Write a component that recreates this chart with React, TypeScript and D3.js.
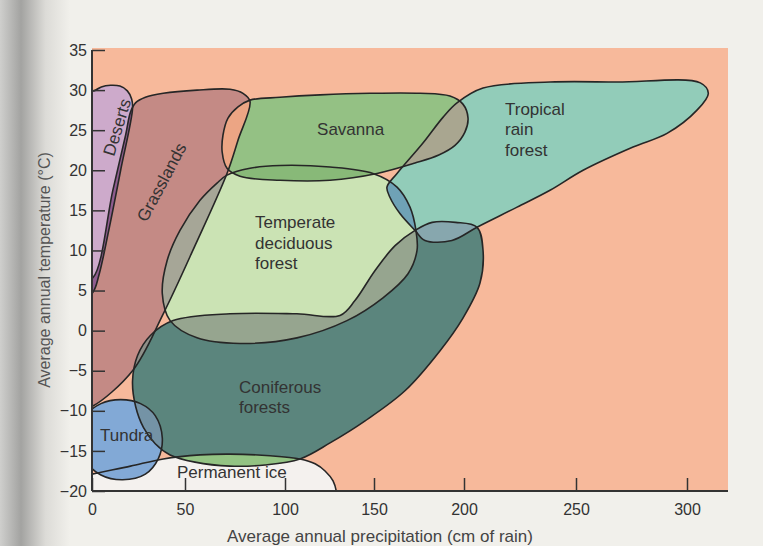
import React, { useRef, useEffect } from "react";
import * as d3 from "d3";

type Pt = [number, number];

// axis ticks
const xTicks = [0, 50, 100, 150, 200, 250, 300];
const yTicks = [35, 30, 25, 20, 15, 10, 5, 0, -5, -10, -15, -20];

// biome outlines as [precipitation cm, temperature °C]
const deserts: Pt[] = [
  [-6, 29.8], [1, 29.9], [5, 30.4], [10, 30.6], [15, 30.5], [19, 29.9],
  [21.3, 28.9], [21.8, 27.7], [15.4, 20], [9, 12.5], [3.7, 6.9], [0.5, 4.8], [-6, 3.8],
];
const grasslands: Pt[] = [
  [20.7, 27.25], [23.4, 28.4], [28.7, 29.1], [38.3, 29.6], [56, 30], [72.5, 30.1],
  [79, 29.6], [82.5, 28.6], [76.5, 23.75], [71, 19.6], [55, 10.6], [38.3, 2.1],
  [21.8, -5], [0.5, -9.4], [-6, -9.8], [-6, 6.2], [0.5, 6.6], [11.2, 17.5], [18.1, 24.4],
];
const savanna: Pt[] = [
  [76.5, 27.9], [82.5, 28.75], [97.5, 29.1], [119.7, 29.4], [147.8, 29.6], [175.6, 29.6],
  [192.2, 29.25], [199.4, 28.25], [201.8, 26.5], [200.4, 24.75], [195, 23.1], [186, 21.9],
  [172.8, 20.9], [151.7, 19.6], [125.3, 18.75], [97.5, 18.75], [77.5, 19.25], [71, 20.25],
  [68.6, 22.25], [69, 24.4], [71.5, 26.5],
];
const tropicalRainForest: Pt[] = [
  [196.1, 28.4], [208.5, 30.25], [238.4, 31], [268.5, 31], [306, 30.9], [309.6, 29.6],
  [304.5, 27.5], [291, 24.6], [275.7, 22.9], [253.2, 20], [238.4, 17.5], [223.7, 15.4],
  [205.8, 12.9], [193.3, 11.25], [178.3, 11.25], [172.8, 12.5], [164.4, 14.6], [158.9, 16.6],
  [157.2, 17.9], [162.8, 19.6], [177.2, 23.4], [188.3, 26.6],
];
const temperateForest: Pt[] = [
  [71, 19.4], [82.5, 20.25], [97.5, 20.6], [125.3, 20.4], [149.4, 19.6], [162.8, 17.9],
  [170, 15.4], [173.3, 12.5], [173.9, 10], [168.9, 7.1], [155, 4.1], [134.8, 1.25],
  [106.7, -0.9], [77.5, -1.6], [56, -0.9], [42, 1.25], [37.8, 4.6], [40.4, 8.75],
  [47.3, 12.5], [57.5, 16.25], [66, 18.4],
];
const coniferousForests: Pt[] = [
  [172.8, 12.5], [182.3, 13.5], [195.3, 13.5], [205.8, 12.9], [208.5, 10], [207.1, 5.9],
  [199.5, 1.6], [186.7, -2.5], [167.2, -7.5], [145, -11.25], [125.3, -14], [108.4, -16],
  [90, -16.75], [72.5, -16.9], [55, -16.4], [42, -15.5], [34, -14.1], [27.7, -12.1],
  [23.4, -9.4], [21.8, -6.25], [24.5, -3.1], [31.4, -0.6], [43.6, 1.25], [72.5, 2.1],
  [106.7, 2.1], [130.9, 1.9], [139.3, 3.75], [150.6, 7.5], [161.7, 10.6],
];
const tundra: Pt[] = [
  [15.4, -8.6], [26.1, -9.1], [34, -10.6], [37.8, -13.4], [35.6, -16], [28.7, -17.9],
  [16.5, -18.6], [4.8, -18], [-3.2, -16.25], [-5.9, -13.75], [-3.2, -10.6], [4.8, -9.1],
];
const permanentIce: Pt[] = [
  [-6, -18.25], [0, -17.9], [20.7, -16.9], [38.3, -16], [57.5, -15.5], [72.5, -15.4],
  [92.5, -15.6], [108.4, -16], [116.9, -16.6], [122.5, -17.5], [127, -18.75],
  [129.2, -20.5], [129.5, -23], [-6, -23],
];

const biomes = [
  { key: "ice", pts: permanentIce, fill: "#f4f1ee" },
  { key: "grass", pts: grasslands, fill: "#c48a85" },
  { key: "desert", pts: deserts, fill: "#cdaacb" },
  { key: "tundra", pts: tundra, fill: "#82a9d6" },
  { key: "savanna", pts: savanna, fill: "#94c184" },
  { key: "tropical", pts: tropicalRainForest, fill: "#92ccb9" },
  { key: "conifer", pts: coniferousForests, fill: "#5b857d" },
  { key: "temperate", pts: temperateForest, fill: "#cbe3b4" },
];

// [clip shape, shape, colour of their overlap]
const overlaps: [string, string, string][] = [
  ["grass", "desert", "#8f5d8f"],
  ["grass", "savanna", "#eca584"],
  ["grass", "conifer", "#8e8f88"],
  ["grass", "temperate", "#a6a697"],
  ["savanna", "temperate", "#88b978"],
  ["savanna", "tropical", "#a9a690"],
  ["tropical", "conifer", "#87a7ae"],
  ["conifer", "temperate", "#96a58f"],
  ["tropical", "temperate", "#6fa2b6"],
  ["conifer", "tundra", "#7493a6"],
  ["ice", "conifer", "#93c383"],
  ["ice", "tundra", "#82a9d6"],
];

const labels = [
  { lines: ["Deserts"], x: 14.4, y: 25.3, rotate: -73, anchor: "middle" },
  { lines: ["Grasslands"], x: 38.3, y: 18.4, rotate: -62, anchor: "middle" },
  { lines: ["Savanna"], x: 118, y: 24.4, rotate: 0, anchor: "start" },
  { lines: ["Tropical", "rain", "forest"], x: 218.3, y: 26.9, rotate: 0, anchor: "start" },
  { lines: ["Temperate", "deciduous", "forest"], x: 85, y: 12.75, rotate: 0, anchor: "start" },
  { lines: ["Coniferous", "forests"], x: 77, y: -7.75, rotate: 0, anchor: "start" },
  { lines: ["Tundra"], x: 4.3, y: -13.75, rotate: 0, anchor: "start" },
  { lines: ["Permanent ice"], x: 45.7, y: -18.4, rotate: 0, anchor: "start" },
];

const FONT = "'Liberation Sans', Arial, sans-serif";

const App = () => {
  const ref = useRef<SVGSVGElement>(null);

  useEffect(() => {
    const svg = d3.select(ref.current);
    svg.selectAll("*").remove();

    const width = 763;
    const height = 546;

    // the photographed page curves near the binding, so tick spacing is uneven
    const x = d3.scaleLinear().domain(xTicks).range([92, 185, 285, 374, 464, 576, 687]);
    const y = d3.scaleLinear().domain([-20, 35]).range([491, 50]);
    const left = x(0);
    const right = 728;
    const top = 48;
    const bottom = y(-20);

    // paper
    const defs = svg.append("defs");
    const grad = defs.append("linearGradient").attr("id", "binding").attr("x1", 0).attr("x2", 1);
    grad.append("stop").attr("offset", 0).attr("stop-color", "#cfcfcd");
    grad.append("stop").attr("offset", 0.3).attr("stop-color", "#a3a3a1");
    grad.append("stop").attr("offset", 0.65).attr("stop-color", "#dcdbd7");
    grad.append("stop").attr("offset", 1).attr("stop-color", "#f1f0eb");
    svg.append("rect").attr("width", width).attr("height", height).attr("fill", "#f1f0eb");
    svg.append("rect").attr("width", 70).attr("height", height).attr("fill", "url(#binding)");

    // plot background
    svg.append("rect")
      .attr("x", left).attr("y", top)
      .attr("width", right - left).attr("height", bottom - top)
      .attr("fill", "#f7b99b");

    defs.append("clipPath").attr("id", "plot")
      .append("rect")
      .attr("x", left).attr("y", top)
      .attr("width", right - left).attr("height", bottom - top);

    const line = d3.line<Pt>()
      .x((d) => x(d[0]))
      .y((d) => y(d[1]))
      .curve(d3.curveCatmullRomClosed.alpha(0.5));

    const pathOf: Record<string, string> = {};
    biomes.forEach((b) => {
      pathOf[b.key] = line(b.pts) as string;
      defs.append("clipPath").attr("id", "clip-" + b.key)
        .append("path").attr("d", pathOf[b.key]);
    });

    const g = svg.append("g").attr("clip-path", "url(#plot)");

    g.selectAll("path.fill")
      .data(biomes)
      .join("path")
      .attr("class", "fill")
      .attr("d", (d) => pathOf[d.key])
      .attr("fill", (d) => d.fill);

    overlaps.forEach(([a, b, c]) => {
      g.append("g")
        .attr("clip-path", `url(#clip-${a})`)
        .append("path")
        .attr("d", pathOf[b])
        .attr("fill", c);
    });

    g.selectAll("path.outline")
      .data(biomes)
      .join("path")
      .attr("class", "outline")
      .attr("d", (d) => pathOf[d.key])
      .attr("fill", "none")
      .attr("stroke", "#262626")
      .attr("stroke-width", 1.6)
      .attr("stroke-linejoin", "round");

    // biome labels
    labels.forEach((l) => {
      const t = svg.append("text")
        .attr("transform", `translate(${x(l.x)},${y(l.y)}) rotate(${l.rotate})`)
        .attr("text-anchor", l.anchor)
        .attr("font-family", FONT)
        .attr("font-size", 17)
        .attr("fill", "#333");
      l.lines.forEach((s, i) => {
        t.append("tspan").attr("x", 0).attr("y", i * 20.5).text(s);
      });
      if (l.rotate !== 0) t.attr("dominant-baseline", "middle");
    });

    // axes
    const fmt = (d: d3.NumberValue) => {
      const v = +d;
      return v < 0 ? "\u2212" + Math.abs(v) : String(v);
    };

    const xAxis = svg.append("g")
      .attr("transform", `translate(0,${bottom})`)
      .call(d3.axisBottom(x).tickValues(xTicks).tickSize(-13).tickSizeOuter(0));
    xAxis.select(".domain").remove();
    xAxis.selectAll("line").attr("stroke", "#333").attr("stroke-width", 1.5);
    xAxis.selectAll("text")
      .attr("dy", null).attr("y", 24)
      .attr("font-family", FONT).attr("font-size", 16).attr("fill", "#333");

    const yAxis = svg.append("g")
      .attr("transform", `translate(${left},0)`)
      .call(d3.axisLeft(y).tickValues(yTicks).tickFormat(fmt).tickSize(-13).tickSizeOuter(0).tickPadding(5));
    yAxis.select(".domain").remove();
    yAxis.selectAll("line").attr("stroke", "#333").attr("stroke-width", 1.5);
    yAxis.selectAll("text")
      .attr("font-family", FONT).attr("font-size", 16).attr("fill", "#333");

    svg.append("line")
      .attr("x1", left).attr("x2", right).attr("y1", bottom).attr("y2", bottom)
      .attr("stroke", "#333").attr("stroke-width", 2);
    svg.append("line")
      .attr("x1", left).attr("x2", left).attr("y1", y(35)).attr("y2", bottom)
      .attr("stroke", "#333").attr("stroke-width", 2);

    // axis titles
    svg.append("text")
      .attr("x", 380).attr("y", 542)
      .attr("text-anchor", "middle")
      .attr("font-family", FONT).attr("font-size", 17).attr("fill", "#444")
      .text("Average annual precipitation (cm of rain)");

    svg.append("text")
      .attr("transform", `translate(50,${270}) rotate(-90)`)
      .attr("text-anchor", "middle")
      .attr("font-family", FONT).attr("font-size", 16).attr("fill", "#555")
      .text("Average annual temperature (\u00b0C)");
  }, []);

  return (
    <svg
      ref={ref}
      width={763}
      height={546}
      style={{ position: "absolute", left: 0, top: 0 }}
    ></svg>
  );
};

export default App;
